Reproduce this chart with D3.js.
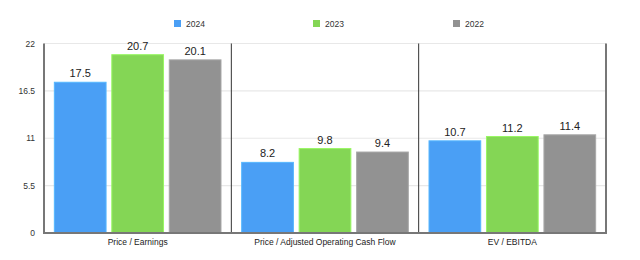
<!DOCTYPE html>
<html>
<head>
<meta charset="utf-8">
<script src="https://cdn.jsdelivr.net/npm/d3@7"></script>
<style>
  body { margin: 0; background: #fff; }
  text { font-family: "Helvetica Neue", Helvetica, "Liberation Sans", Arial, sans-serif; }
</style>
</head>
<body>
<svg id="chart" width="640" height="260"></svg>
<script>
var categories = ["Price / Earnings", "Price / Adjusted Operating Cash Flow", "EV / EBITDA"];
var seriesNames = ["2024", "2023", "2022"];
var values2024 = [17.5, 8.2, 10.7];
var values2023 = [20.7, 9.8, 11.2];
var values2022 = [20.1, 9.4, 11.4];
var yTicks = [0, 5.5, 11, 16.5, 22];
var colors = ["#4a9ff5", "#84d655", "#929292"];

var svg = d3.select("#chart");
var plotLeft = 44, plotRight = 606, plotTop = 43.5, plotBottom = 233;

var x = d3.scaleBand().domain(categories).range([plotLeft, plotRight]);
var xInner = d3.scaleBand().domain(seriesNames)
    .range([0, x.bandwidth()]).paddingInner(0.1).paddingOuter(0.18);
var y = d3.scaleLinear().domain([0, 22]).range([plotBottom, plotTop]);

var series = [values2024, values2023, values2022];

//Gridlines
svg.append("g").selectAll("line")
    .data(yTicks.filter(function(d) { return d > 0; }))
    .join("line")
    .attr("x1", plotLeft).attr("x2", plotRight)
    .attr("y1", function(d) { return y(d); })
    .attr("y2", function(d) { return y(d); })
    .attr("stroke", "#e8e8e8").attr("stroke-width", 1.2);

//Bars
series.forEach(function(vals, si) {
    var g = svg.append("g");
    g.selectAll("rect")
        .data(vals)
        .join("rect")
        .attr("x", function(d, i) { return x(categories[i]) + xInner(seriesNames[si]); })
        .attr("y", function(d) { return y(d); })
        .attr("width", xInner.bandwidth())
        .attr("height", function(d) { return plotBottom - y(d); })
        .attr("fill", colors[si])
        .attr("stroke", d3.color(colors[si]).brighter(0.4))
        .attr("stroke-width", 1);
    g.selectAll("text")
        .data(vals)
        .join("text")
        .attr("x", function(d, i) { return x(categories[i]) + xInner(seriesNames[si]) + xInner.bandwidth() / 2; })
        .attr("y", function(d) { return y(d) - 5; })
        .attr("text-anchor", "middle")
        .attr("font-size", 11)
        .attr("fill", "#222")
        .text(function(d) { return d.toFixed(1); });
});

//Category separators
svg.append("g").selectAll("line")
    .data(categories.slice(1))
    .join("line")
    .attr("x1", function(d) { return x(d); })
    .attr("x2", function(d) { return x(d); })
    .attr("y1", plotTop).attr("y2", plotBottom)
    .attr("stroke", "#333").attr("stroke-width", 1);

//Frame: left, right, bottom
svg.append("line").attr("x1", plotLeft).attr("x2", plotLeft).attr("y1", plotTop).attr("y2", plotBottom + 1)
    .attr("stroke", "#777").attr("stroke-width", 2);
svg.append("line").attr("x1", plotRight).attr("x2", plotRight).attr("y1", plotTop).attr("y2", plotBottom + 1)
    .attr("stroke", "#777").attr("stroke-width", 2);
svg.append("line").attr("x1", plotLeft - 1).attr("x2", plotRight + 1).attr("y1", plotBottom).attr("y2", plotBottom)
    .attr("stroke", "#777").attr("stroke-width", 2);

//Y axis labels
svg.append("g").selectAll("text")
    .data(yTicks)
    .join("text")
    .attr("x", 35)
    .attr("y", function(d) { return y(d) + 3; })
    .attr("text-anchor", "end")
    .attr("font-size", 8.5)
    .attr("fill", "#333")
    .text(function(d) { return d; });

//X axis labels
svg.append("g").selectAll("text")
    .data(categories)
    .join("text")
    .attr("x", function(d) { return x(d) + x.bandwidth() / 2; })
    .attr("y", 245)
    .attr("text-anchor", "middle")
    .attr("font-size", 8.5)
    .attr("fill", "#222")
    .text(function(d) { return d; });

//Legend
var legendX = [174, 313, 453];
var legend = svg.append("g").selectAll("g")
    .data(seriesNames)
    .join("g")
    .attr("transform", function(d, i) { return "translate(" + legendX[i] + ",20)"; });
legend.append("rect")
    .attr("width", 7).attr("height", 7)
    .attr("fill", function(d, i) { return colors[i]; });
legend.append("text")
    .attr("x", 12).attr("y", 7)
    .attr("font-size", 8.5)
    .attr("fill", "#333")
    .text(function(d) { return d; });
</script>
</body>
</html>
